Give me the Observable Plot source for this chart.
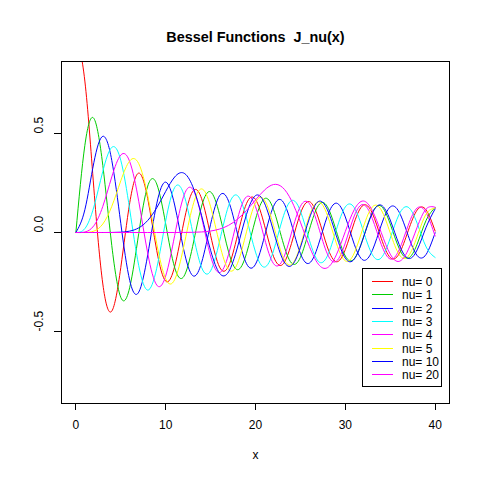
<!DOCTYPE html>
<html><head><meta charset="utf-8">
<script src="https://cdn.jsdelivr.net/npm/d3@7"></script>
<script src="https://cdn.jsdelivr.net/npm/@observablehq/plot@0.6"></script>
<style>
body{margin:0;background:#fff;}
#chart svg text{white-space:pre;}
</style></head><body><div id="chart"></div>
<script>
const xs = [0,1,2,3,4,5,6,7,8,9,10,11,12,13,14,15,16,17,18,19,20,21,22,23,24,25,26,27,28,29,30,31,32,33,34,35,36,37,38,39,40];
const j0 = [1, 0.7652, 0.2239, -0.2601, -0.3971, -0.1776, 0.1506, 0.3001, 0.1717, -0.0903, -0.2459, -0.1712, 0.0477, 0.2069, 0.1711, -0.0142, -0.1749, -0.1699, -0.0134, 0.1466, 0.1670, 0.0366, -0.1207, -0.1624, -0.0562, 0.0963, 0.1560, 0.0727, -0.0732, -0.1478, -0.0864, 0.0511, 0.1380, 0.0977, -0.0295, -0.1266, -0.1068, 0.0083, 0.1134, 0.1137, 0.0074];
const j1 = [0, 0.4401, 0.5767, 0.3391, -0.0660, -0.3276, -0.2767, -0.0047, 0.2346, 0.2453, 0.0435, -0.1768, -0.2234, -0.0703, 0.1334, 0.2051, 0.0904, -0.0977, -0.1880, -0.1057, 0.0668, 0.1711, 0.1172, -0.0397, -0.1540, -0.1254, 0.0150, 0.1366, 0.1306, 0.0069, -0.1188, -0.1329, -0.0262, 0.1002, 0.1325, 0.0435, -0.0811, -0.1295, -0.0588, 0.0618, 0.1260];
const j2 = [0, 0.1149, 0.3528, 0.4861, 0.3641, 0.0466, -0.2429, -0.3014, -0.1130, 0.1448, 0.2546, 0.1390, -0.0849, -0.2177, -0.1520, 0.0416, 0.1862, 0.1584, -0.0075, -0.1577, -0.1603, -0.0203, 0.1314, 0.1589, 0.0434, -0.1063, -0.1548, -0.0626, 0.0825, 0.1483, 0.0785, -0.0597, -0.1396, -0.0916, 0.0373, 0.1291, 0.1023, -0.0153, -0.1165, -0.1105, -0.0011];
const j3 = [0, 0.0196, 0.1289, 0.3091, 0.4302, 0.3648, 0.1148, -0.1676, -0.2911, -0.1809, 0.0584, 0.2273, 0.1951, 0.0033, -0.1768, -0.1940, -0.0438, 0.1350, 0.1863, 0.0725, -0.0989, -0.1750, -0.0933, 0.0673, 0.1612, 0.1084, -0.0388, -0.1459, -0.1188, 0.0136, 0.1293, 0.1252, 0.0087, -0.1113, -0.1281, -0.0287, 0.0925, 0.1278, 0.0465, -0.0731, -0.1261];
const j4 = [0, 0.0025, 0.0340, 0.1321, 0.2811, 0.3912, 0.3576, 0.1578, -0.1054, -0.2654, -0.2196, -0.0150, 0.1825, 0.2192, 0.0762, -0.1192, -0.2026, -0.1108, 0.0696, 0.1806, 0.1306, -0.0297, -0.1568, -0.1413, -0.0031, 0.1323, 0.1458, 0.0302, -0.1080, -0.1455, -0.0526, 0.0839, 0.1412, 0.0714, -0.0599, -0.1340, -0.0869, 0.0360, 0.1238, 0.0993, -0.0178];
const j5 = [0, 0.0002, 0.0070, 0.0430, 0.1321, 0.2611, 0.3621, 0.3479, 0.1858, -0.0550, -0.2341, -0.2382, -0.0734, 0.1316, 0.2203, 0.1304, -0.0575, -0.1871, -0.1554, 0.0035, 0.1511, 0.1637, 0.0363, -0.1164, -0.1622, -0.0661, 0.0837, 0.1548, 0.0879, -0.0537, -0.1433, -0.1035, 0.0266, 0.1286, 0.1140, -0.0019, -0.1118, -0.1200, -0.0204, 0.0935, 0.1225];
const j10 = [0, 0, 0, 0, 0.0002, 0.0015, 0.0070, 0.0235, 0.0608, 0.1247, 0.2075, 0.2804, 0.3005, 0.2338, 0.0849, -0.0901, -0.2062, -0.1991, -0.0733, 0.0915, 0.1864, 0.1486, 0.0076, -0.1322, -0.1676, -0.0752, 0.0711, 0.1564, 0.1152, -0.0162, -0.1300, -0.1342, -0.0285, 0.0966, 0.1381, 0.0630, -0.0613, -0.1308, -0.0878, 0.0268, 0.1193];
const j20 = [0, 0, 0, 0, 0, 0, 0, 0, 0, 0, 0, 0.0001, 0.0003, 0.0010, 0.0028, 0.0074, 0.0174, 0.0362, 0.0673, 0.1117, 0.1646, 0.2143, 0.2423, 0.2281, 0.1616, 0.0521, -0.0703, -0.1601, -0.1780, -0.1131, 0.0049, 0.1155, 0.1592, 0.1114, -0.0005, -0.1093, -0.1457, -0.0881, 0.0267, 0.1187, 0.1277];

const nus = [0, 1, 2, 3, 4, 5, 10, 20];
const colors = ["#FF0000", "#00CD00", "#0000FF", "#00FFFF", "#FF00FF", "#FFFF00", "#0000FF", "#FF00FF"];
const legendLabels = ["nu= 0", "nu= 1", "nu= 2", "nu= 3", "nu= 4", "nu= 5", "nu= 10", "nu= 20"];
const xTicks = [0, 10, 20, 30, 40];
const yTicks = [-0.5, 0, 0.5];
const yTickLabels = ["-0.5", "0.0", "0.5"];
const titleText = "Bessel Functions  J_nu(x)";
const xLabel = "x";

const series = [j0, j1, j2, j3, j4, j5, j10, j20];
const rows = series.flatMap((s, k) => s.map((v, i) => ({x: xs[i], y: v, nu: nus[k]})));

const font = "'Liberation Sans', Arial, Helvetica, sans-serif";

const plot = Plot.plot({
  width: 480, height: 480,
  marginLeft: 61, marginRight: 31, marginTop: 61, marginBottom: 77,
  style: {fontFamily: font, fontSize: "12px", background: "white", color: "black"},
  x: {domain: [-1.6, 41.6]},
  y: {domain: [-0.864, 0.864]},
  color: {type: "ordinal", domain: nus, range: colors},
  marks: [
    Plot.line(rows, {x: "x", y: "y", z: "nu", stroke: "nu", curve: "natural", clip: true, strokeWidth: 1}),
    Plot.frame({stroke: "black", strokeWidth: 1, shapeRendering: "crispEdges"}),
    Plot.axisX({ticks: xTicks, tickSize: 7, tickPadding: 10, label: null, fontSize: 12, tickFormat: d => String(d), shapeRendering: "crispEdges"}),
    Plot.axisY({ticks: yTicks, tickSize: 7, label: null, tickFormat: () => "", shapeRendering: "crispEdges"}),
    Plot.text(yTicks, {y: d => d, text: (d, i) => yTickLabels[i], frameAnchor: "left", dx: -22, rotate: -90, fontSize: 12}),
    Plot.text([titleText], {frameAnchor: "top", dy: -30, fontWeight: "bold", fontSize: 14.4}),
    Plot.text([xLabel], {frameAnchor: "bottom", dy: 55, fontSize: 12})
  ]
});

// legend (bottom right, inside the plot region)
const svg = d3.select(plot);
const lg = svg.append("g").attr("font-family", font).attr("font-size", 12).attr("text-anchor", "start");
lg.append("rect").attr("x", 362.5).attr("y", 268.5).attr("width", 79).attr("height", 118)
  .attr("fill", "white").attr("stroke", "black").attr("shape-rendering", "crispEdges");
nus.forEach((nu, i) => {
  const cy = Math.round(281 + i * 13.33) + 0.5;
  lg.append("line").attr("x1", 372).attr("x2", 393).attr("y1", cy).attr("y2", cy)
    .attr("stroke", colors[i]).attr("stroke-width", 1).attr("shape-rendering", "crispEdges");
  lg.append("text").attr("x", 402).attr("y", cy).attr("dy", "0.35em")
    .attr("text-anchor", "start").attr("fill", "black").text(legendLabels[i]);
});

document.getElementById("chart").appendChild(plot);
</script></body></html>
